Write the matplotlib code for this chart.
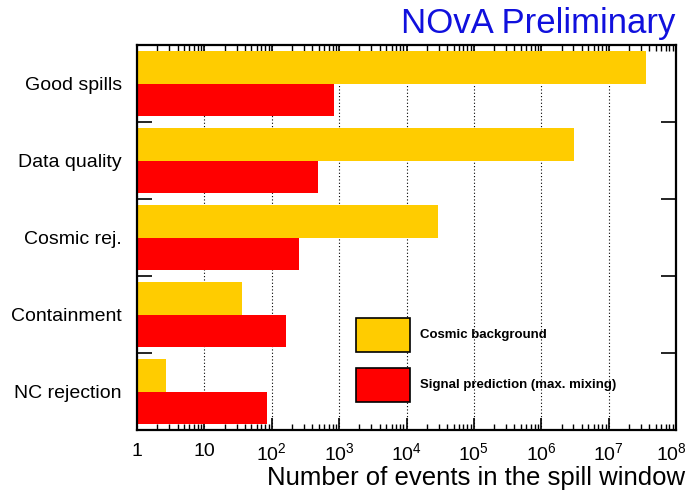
import matplotlib
matplotlib.use("Agg")
import matplotlib.pyplot as plt
import matplotlib.transforms as mtransforms
import numpy as np
from matplotlib.patches import Rectangle
from matplotlib.ticker import LogLocator, FixedLocator, NullFormatter

plt.rcParams['font.family'] = ['Liberation Sans', 'DejaVu Sans']
plt.rcParams['mathtext.fontset'] = 'custom'
plt.rcParams['mathtext.rm'] = 'Liberation Sans'
plt.rcParams['mathtext.it'] = 'Liberation Sans'

# data
cuts = ["Good spills", "Data quality", "Cosmic rej.", "Containment", "NC rejection"]
cosmic = [3.6e7, 3.1e6, 2.9e4, 36, 2.7]
signal = [830, 480, 250, 160, 86]
xticklabels = ["1", "10", "$10^2$", "$10^3$", "$10^4$", "$10^5$", "$10^6$", "$10^7$", "$10^8$"]

yellow = "#ffcc00"
red = "#ff0000"

fig = plt.figure(figsize=(6.87, 4.92), dpi=100)
ax = fig.add_axes([137/687, 1-430/492, 539/687, 385/492])

ypos = np.arange(len(cuts))
h = 0.42
ax.barh(ypos - h/2, cosmic, height=h, color=yellow, zorder=2)
ax.barh(ypos + h/2, signal, height=h, color=red, zorder=2)

ax.set_xscale("log")
ax.set_xlim(1, 1e8)
ax.set_ylim(len(cuts) - 0.5, -0.5)

# x ticks
ax.xaxis.set_major_locator(FixedLocator([10.0**i for i in range(9)]))
ax.set_xticklabels(xticklabels, fontsize=14)
ax.xaxis.set_minor_locator(LogLocator(base=10, subs=np.arange(2, 10), numticks=20))
ax.xaxis.set_minor_formatter(NullFormatter())
ax.tick_params(axis="x", which="major", direction="in", length=9, width=1.2,
               top=True, bottom=True, pad=9)
ax.tick_params(axis="x", which="minor", direction="in", length=4.5, width=1.0,
               top=True, bottom=True)
# nudge the last label so it stays inside the figure
last = ax.get_xticklabels()[-1]
last.set_transform(last.get_transform() +
                   mtransforms.ScaledTranslation(-5/100, 0, fig.dpi_scale_trans))

# y: category labels + boundary ticks
ax.set_yticks(ypos)
ax.set_yticklabels(cuts, fontsize=14)
ax.tick_params(axis="y", which="major", length=0, pad=11)
ax.set_yticks(np.arange(len(cuts) - 1) + 0.5, minor=True)
ax.tick_params(axis="y", which="minor", direction="in", length=11, width=1.2,
               left=True, right=True)

ax.grid(True, axis="x", which="major", linestyle=(0, (1, 2)), color="black",
        linewidth=0.8, zorder=1)

for s in ax.spines.values():
    s.set_linewidth(1.6)

fig.text(685/687, 1 - 478/492, "Number of events in the spill window",
         fontsize=18.5, ha="right", va="center")

# legend boxes
leg = [("Cosmic background", yellow), ("Signal prediction (max. mixing)", red)]
for i, (lab, col) in enumerate(leg):
    y0 = 318 + i * 50
    fig.patches.append(Rectangle((356/687, 1 - (y0 + 34)/492), 54/687, 34/492,
                                 transform=fig.transFigure, facecolor=col,
                                 edgecolor="black", linewidth=1.2, zorder=5))
    fig.text(420/687, 1 - (y0 + 17)/492, lab, fontsize=9.5, fontweight="bold",
             va="center", ha="left")

fig.text(675/687, 1 - 23/492, "NOvA Preliminary", color="#1010dd", fontsize=25,
         ha="right", va="center")

fig.savefig("out.png", dpi=100)
